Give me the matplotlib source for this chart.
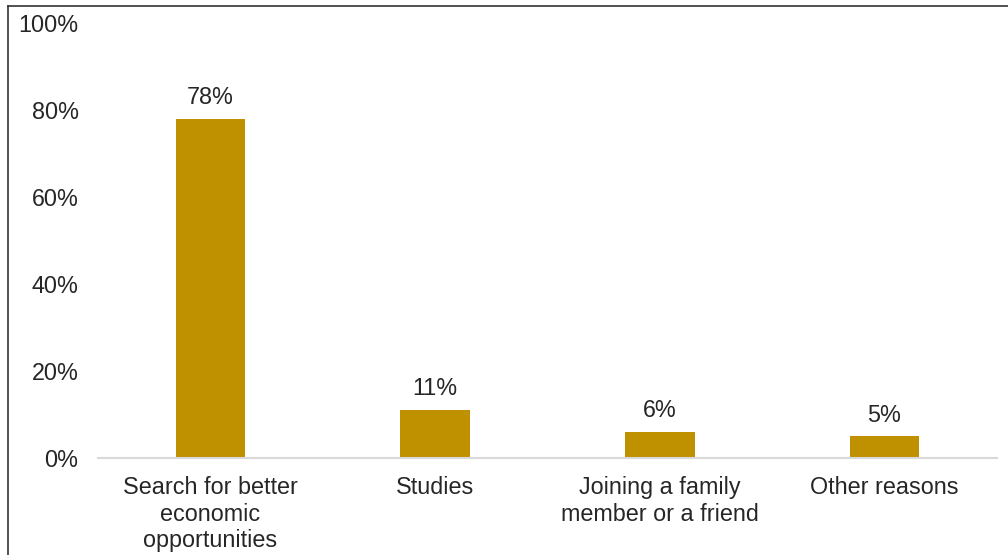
import matplotlib.pyplot as plt
from matplotlib.lines import Line2D

categories = ['Search for better\neconomic\nopportunities', 'Studies',
              'Joining a family\nmember or a friend', 'Other reasons']
values = [78, 11, 6, 5]
yticks = [0, 20, 40, 60, 80, 100]

plt.rcParams['font.family'] = ['Liberation Sans', 'DejaVu Sans']

fig = plt.figure(figsize=(10.08, 5.55), dpi=100)
ax = fig.add_axes([0.0972, 0.1748, 0.8918, 0.7838])

x = range(len(categories))
bars = ax.bar(x, values, width=0.31, color='#BF9000')

# value labels above the bars
for rect, v in zip(bars, values):
    ax.annotate(f'{v}%', (rect.get_x() + rect.get_width() / 2, v),
                xytext=(0, 7), textcoords='offset points',
                ha='center', va='bottom', fontsize=16.8, color='#262626')

ax.set_xlim(-0.5, len(categories) - 0.5)
ax.set_ylim(0, 100)
ax.set_yticks(yticks)
ax.set_yticklabels([f'{t}%' for t in yticks])
ax.set_xticks(list(x))
ax.set_xticklabels(categories, linespacing=1.2)

ax.tick_params(axis='y', length=0, pad=14, labelsize=16.8, labelcolor='#262626')
ax.tick_params(axis='x', length=0, pad=13, labelsize=16.8, labelcolor='#262626')

for s in ['top', 'right', 'left']:
    ax.spines[s].set_visible(False)
ax.spines['bottom'].set_color('#D9D9D9')
ax.spines['bottom'].set_linewidth(1.5)

# frame around the picture (left and top edges visible)
fig.add_artist(Line2D([8 / 1008, 8 / 1008], [0, 1 - 6 / 555], transform=fig.transFigure,
                      color='#333333', linewidth=1.2))
fig.add_artist(Line2D([8 / 1008, 1], [1 - 6 / 555, 1 - 6 / 555], transform=fig.transFigure,
                      color='#333333', linewidth=1.2))

fig.savefig('out.png', dpi=100)
